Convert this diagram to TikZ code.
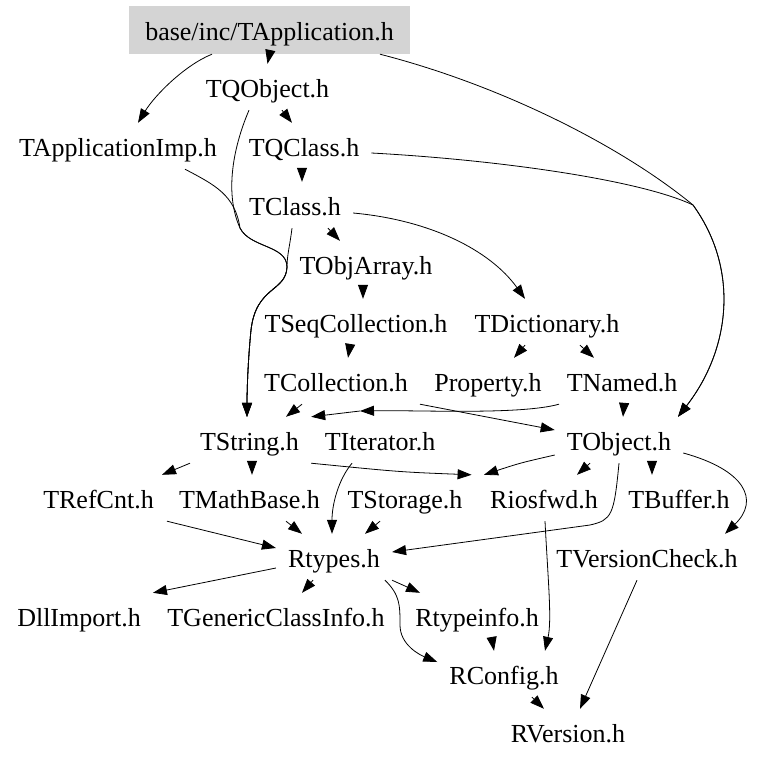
\documentclass[tikz,border=0pt]{standalone}
\usepackage{fontspec}
\setmainfont{Liberation Serif}
\usetikzlibrary{arrows.meta}

\newcommand{\graphfont}{\fontsize{26}{30}\selectfont}

\begin{document}
\begin{tikzpicture}[
    x=1pt, y=-1pt,
    incfile/.style={font=\graphfont, inner xsep=12pt, inner ysep=7pt, text height=26pt, text depth=6pt},
    header/.style={incfile, fill=black!17, minimum width=281pt, minimum height=48pt},
    arrow/.style={-{Triangle[length=14pt, width=10pt]}, line width=0.8pt}
]
\useasboundingbox (0,0) rectangle (757,763);

% Nodes
\node (TApp) [header] at (269.5,30) {base/inc/TApplication.h};
\node (TQObject) [incfile] at (267.5,87) {TQObject.h};
\node (TAppImp) [incfile] at (118,146) {TApplicationImp.h};
\node (TQClass) [incfile] at (304,146) {TQClass.h};
\node (TClass) [incfile] at (295,205) {TClass.h};
\node (TObjArray) [incfile] at (366,264) {TObjArray.h};
\node (TSeqColl) [incfile] at (356,322) {TSeqCollection.h};
\node (TDict) [incfile] at (547,322) {TDictionary.h};
\node (TColl) [incfile] at (336,381) {TCollection.h};
\node (Property) [incfile] at (488,381) {Property.h};
\node (TNamed) [incfile] at (622,381) {TNamed.h};
\node (TString) [incfile] at (249.5,440) {TString.h};
\node (TIterator) [incfile] at (380,440) {TIterator.h};
\node (TObject) [incfile] at (619,440) {TObject.h};
\node (TRefCnt) [incfile] at (98.5,498) {TRefCnt.h};
\node (TMathBase) [incfile] at (249.5,498) {TMathBase.h};
\node (TStorage) [incfile] at (405,498) {TStorage.h};
\node (Riosfwd) [incfile] at (544,498) {Riosfwd.h};
\node (TBuffer) [incfile] at (679,498) {TBuffer.h};
\node (Rtypes) [incfile] at (334,557) {Rtypes.h};
\node (TVersionCheck) [incfile] at (647,557) {TVersionCheck.h};
\node (DllImport) [incfile] at (79,616) {DllImport.h};
\node (TGCI) [incfile] at (276,616) {TGenericClassInfo.h};
\node (Rtypeinfo) [incfile] at (477,616) {Rtypeinfo.h};
\node (RConfig) [incfile] at (504,674) {RConfig.h};
\node (RVersion) [incfile] at (568,732) {RVersion.h};
\coordinate (NamedTip) at (360,411);

% Arrows
\draw [arrow] (TApp.south) -- (TQObject.north);
\draw [arrow] ([xshift=-57.5pt]TApp.south) .. controls (185,65) and (155,95) .. ([xshift=20pt]TAppImp.north);
\draw [arrow] ([xshift=110.5pt]TApp.south) .. controls (500,85) and (620,145) .. (693,205) .. controls (740,270) and (730,350) .. ([xshift=59pt]TObject.north);
\draw [arrow] ([xshift=14.5pt]TQObject.south) -- ([xshift=-12pt]TQClass.north);
\draw [arrow] ([xshift=-18.5pt]TQObject.south) .. controls (232,150) and (225,195) .. (240,228) .. controls (250,248) and (287,245) .. (287,267) .. controls (286,292) and (256,286) .. (251,330) .. controls (248,360) and (247,390) .. ([xshift=-2.5pt]TString.north);
\draw [arrow] ([xshift=67pt]TAppImp.south) .. controls (215,185) and (235,195) .. (240,228) .. controls (250,248) and (287,245) .. (287,267) .. controls (286,292) and (256,286) .. (251,330) .. controls (248,360) and (247,390) .. ([xshift=-2.5pt]TString.north);
\draw [arrow] ([xshift=-2pt]TQClass.south) -- ([xshift=7pt]TClass.north);
\draw [arrow] ([yshift=-7pt]TQClass.east) .. controls (500,160) and (640,180) .. (693,205) .. controls (740,270) and (730,350) .. ([xshift=59pt]TObject.north);
\draw [arrow] ([xshift=-3pt]TClass.south) .. controls (290,245) and (287,255) .. (287,267) .. controls (286,292) and (256,286) .. (251,330) .. controls (248,360) and (247,390) .. ([xshift=-2.5pt]TString.north);
\draw [arrow] ([xshift=33pt]TClass.south) -- ([xshift=-26pt]TObjArray.north);
\draw [arrow] ([yshift=-8pt]TClass.east) .. controls (430,220) and (490,250) .. ([xshift=-22pt]TDict.north);
\draw [arrow] ([xshift=-3pt]TObjArray.south) -- ([xshift=7pt]TSeqColl.north);
\draw [arrow] ([xshift=-6pt]TSeqColl.south) -- ([xshift=12pt]TColl.north);
\draw [arrow] ([xshift=-22pt]TDict.south) -- ([xshift=26pt]Property.north);
\draw [arrow] ([xshift=33pt]TDict.south) -- ([xshift=-28pt]TNamed.north);
\draw [arrow] ([xshift=-34pt]TColl.south) -- ([xshift=36.5pt]TString.north);
\draw [arrow] ([xshift=84pt]TColl.south) -- ([yshift=10pt]TObject.west);
\draw [arrow] ([xshift=-63pt]TNamed.south) .. controls (520,415) and (420,410) .. (NamedTip);
\draw [arrow] (NamedTip) -- (TString.north east);
\draw [arrow] ([xshift=2pt]TNamed.south) -- ([xshift=4pt]TObject.north);
\draw [arrow] ([xshift=-59.5pt]TString.south) -- ([xshift=63.5pt]TRefCnt.north);
\draw [arrow] ([xshift=2.5pt]TString.south) -- ([xshift=2.5pt]TMathBase.north);
\draw [arrow] (TString.south east) .. controls (400,472) .. ([xshift=-3pt]TStorage.north east);
\draw [arrow] ([yshift=-15pt]TObject.west) .. controls (520,463) .. ([xshift=6pt]Riosfwd.north west);
\draw [arrow] ([xshift=-29pt]TObject.south) -- ([xshift=33pt]Riosfwd.north);
\draw [arrow] ([xshift=33pt]TObject.south) -- ([xshift=-27pt]TBuffer.north);
\draw [arrow] ([yshift=-13pt]TObject.east) .. controls (745,470) and (760,500) .. ([xshift=78pt]TVersionCheck.north);
\draw [arrow] (TObject.south) .. controls (614,515) and (612,520) .. (590,525) -- ([yshift=5pt]Rtypes.east);
\draw [arrow] ([xshift=68.5pt]TRefCnt.south) -- ([yshift=9pt]Rtypes.west);
\draw [arrow] ([xshift=36.5pt]TMathBase.south) -- ([xshift=-32pt]Rtypes.north);
\draw [arrow] ([xshift=-28pt]TIterator.south) .. controls (338,480) and (332,505) .. ([xshift=-2pt]Rtypes.north);
\draw [arrow] ([xshift=-25pt]TStorage.south) -- ([xshift=31pt]Rtypes.north);
\draw [arrow] ([yshift=-11pt]Rtypes.west) -- (DllImport.north east);
\draw [arrow] ([xshift=-21pt]Rtypes.south) -- ([xshift=26pt]TGCI.north);
\draw [arrow] (Rtypes.south east) -- ([xshift=17pt]Rtypeinfo.north west);
\draw [arrow] ([xshift=51pt]Rtypes.south) .. controls (400,595) and (400,605) .. (400,625) .. controls (400,645) and (420,655) .. ([yshift=12pt]RConfig.west);
\draw [arrow] ([xshift=15pt]Rtypeinfo.south) -- ([xshift=-10pt]RConfig.north);
\draw [arrow] ([xshift=1pt]Riosfwd.south) .. controls (548,580) and (552,620) .. ([xshift=41pt]RConfig.north);
\draw [arrow] ([xshift=28pt]RConfig.south) -- ([xshift=-24pt]RVersion.north);
\draw [arrow] ([xshift=-10pt]TVersionCheck.south) -- ([xshift=12pt]RVersion.north);

\end{tikzpicture}
\end{document}
